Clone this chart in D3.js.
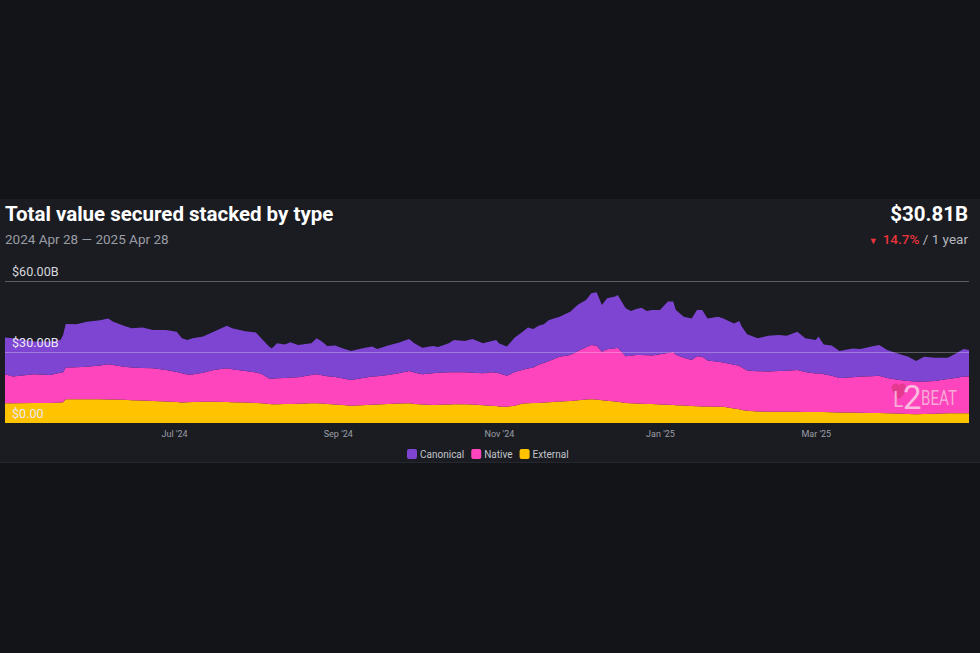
<!DOCTYPE html>
<html><head><meta charset="utf-8">
<script src="https://cdn.jsdelivr.net/npm/d3@7"></script>
<style>
html,body{margin:0;padding:0;background:#131418;}
svg{display:block;font-family:Roboto,"Noto Sans",sans-serif;}
</style></head><body>
<svg id="c" width="980" height="653"></svg>
<script>
const dates = ["2024-04-28","2024-05-01","2024-05-09","2024-05-15","2024-05-19","2024-05-20","2024-05-21","2024-05-25","2024-05-29","2024-06-03",
"2024-06-06","2024-06-08","2024-06-12","2024-06-15","2024-06-19","2024-06-23","2024-06-28","2024-07-02","2024-07-04","2024-07-06",
"2024-07-08","2024-07-12","2024-07-16","2024-07-21","2024-07-23","2024-07-28","2024-08-01","2024-08-03","2024-08-06","2024-08-07",
"2024-08-09","2024-08-12","2024-08-14","2024-08-17","2024-08-22","2024-08-24","2024-08-26","2024-08-28","2024-08-31","2024-09-03",
"2024-09-06","2024-09-10","2024-09-14","2024-09-16","2024-09-20","2024-09-24","2024-09-28","2024-09-30","2024-10-03","2024-10-07",
"2024-10-09","2024-10-13","2024-10-15","2024-10-19","2024-10-22","2024-10-26","2024-10-29","2024-10-31","2024-11-01","2024-11-04",
"2024-11-07","2024-11-10","2024-11-12","2024-11-14","2024-11-16","2024-11-18","2024-11-20","2024-11-24","2024-11-28","2024-12-01",
"2024-12-04","2024-12-06","2024-12-08","2024-12-10","2024-12-12","2024-12-15","2024-12-16","2024-12-19","2024-12-21","2024-12-23",
"2024-12-25","2024-12-27","2024-12-29","2025-01-01","2025-01-04","2025-01-06","2025-01-07","2025-01-10","2025-01-13","2025-01-15",
"2025-01-17","2025-01-19","2025-01-23","2025-01-25","2025-01-29","2025-01-31","2025-02-01","2025-02-03","2025-02-07","2025-02-11",
"2025-02-15","2025-02-18","2025-02-22","2025-02-25","2025-03-01","2025-03-02","2025-03-04","2025-03-07","2025-03-10","2025-03-15",
"2025-03-18","2025-03-22","2025-03-25","2025-03-28","2025-04-01","2025-04-05","2025-04-08","2025-04-11","2025-04-15","2025-04-20",
"2025-04-23","2025-04-26","2025-04-28"];

// values in billions USD
const canonical = [15.5,16.2,13.8,14.1,13.9,15.8,18.4,18.1,19.0,19.1,
19.4,18.3,17.3,16.6,17.1,16.2,16.9,17.0,14.8,14.6,
15.3,15.3,16.2,18.0,17.3,16.8,16.9,15.0,13.5,12.8,
14.8,14.2,14.9,13.7,13.4,15.2,14.2,12.7,13.3,12.7,
12.2,12.6,12.7,11.5,12.4,12.9,13.5,12.4,11.2,11.5,
10.9,12.3,13.7,13.2,14.3,12.7,13.1,13.9,12.7,12.3,
14.6,16.1,17.3,16.2,16.5,16.3,17.3,16.9,18.3,19.7,
20.0,21.8,22.6,19.8,21.5,21.8,22.3,20.3,18.9,19.5,
20.0,18.7,19.2,18.7,21.7,21.2,18.9,17.3,17.6,19.5,
19.7,17.8,19.0,18.6,17.4,18.9,17.2,15.3,13.9,15.1,
15.2,14.8,16.2,14.3,14.2,15.5,12.6,12.7,11.4,12.2,
11.7,12.5,13.0,11.8,11.1,10.3,8.7,10.5,9.9,9.0,
10.4,11.7,11.21];

const native = [12.3,11.3,12.2,11.8,12.5,12.6,13.4,13.6,13.8,14.3,
14.9,14.6,14.0,13.8,13.7,13.8,13.3,12.7,12.3,11.7,
11.6,12.2,13.4,14.2,13.9,13.3,12.8,12.5,10.8,10.8,
11.0,11.0,11.2,11.2,12.0,12.3,12.0,11.8,11.6,11.2,
10.9,11.4,11.9,12.0,12.3,12.8,13.7,13.3,12.8,13.4,
13.5,13.6,13.5,13.5,13.4,13.5,14.1,14.0,14.0,13.1,
14.2,14.3,14.7,15.1,16.1,16.7,17.4,18.9,19.4,20.8,
22.1,23.0,22.7,20.5,21.8,22.5,22.8,19.8,20.1,20.5,
20.6,20.6,20.5,21.2,21.9,22.5,21.3,20.2,19.4,21.1,
21.0,19.4,19.0,18.7,18.5,18.4,18.0,17.0,17.0,17.0,
17.2,17.3,17.6,16.8,16.2,16.3,16.0,15.5,14.6,14.9,
15.3,15.6,15.8,14.9,14.3,13.9,13.8,13.7,13.8,14.5,
14.9,15.5,15.5];

const external = [8.3,8.3,8.4,8.5,8.7,8.8,10.0,10.0,10.0,10.0,
9.9,9.9,9.8,9.6,9.5,9.3,9.1,8.9,8.7,8.8,
8.9,9.0,9.0,8.9,8.8,8.7,8.5,8.3,8.0,7.9,
7.9,8.0,8.0,8.1,8.3,8.3,8.2,8.0,7.8,7.6,
7.3,7.5,7.7,7.8,8.0,8.2,8.3,8.0,7.8,7.6,
7.7,7.8,7.9,7.9,7.8,7.5,7.3,7.2,7.0,6.9,
7.3,8.2,8.3,8.4,8.5,8.7,8.8,9.1,9.3,9.6,
9.9,10.0,9.9,9.6,9.4,9.1,9.0,8.4,8.3,8.2,
8.1,8.0,8.0,7.8,7.7,7.6,7.5,7.4,7.2,7.1,
7.0,7.0,6.9,6.9,6.1,5.8,5.5,5.2,4.9,4.8,
4.8,4.8,4.8,4.7,4.7,4.7,4.6,4.5,4.4,4.4,
4.3,4.2,4.2,4.1,4.0,3.8,3.7,3.8,3.9,4.1,
4.1,4.1,4.1];

const seriesKeys = ["external","native","canonical"];
const seriesLabels = {canonical:"Canonical", native:"Native", external:"External"};
const seriesColors = {canonical:"#7d45d2", native:"#ff45bd", external:"#ffc300"};
const legendOrder = ["canonical","native","external"];
const yTickValues = [0, 30, 60];
const xTickDates = ["2024-07-01","2024-09-01","2024-11-01","2025-01-01","2025-03-01"];
const titleText = "Total value secured stacked by type";
const rangeText = "2024 Apr 28 \u2014 2025 Apr 28";

const parse = d3.timeParse("%Y-%m-%d");
const rows = dates.map((d,i)=>({date:parse(d), canonical:canonical[i], native:native[i], external:external[i]}));

const svg = d3.select("#c");
const W = 980;

// card background
svg.append("rect").attr("x",0).attr("y",199).attr("width",W).attr("height",263).attr("fill","#1a1c22");
svg.append("line").attr("x1",0).attr("x2",W).attr("y1",462.5).attr("y2",462.5).attr("stroke","#262830");

const x = d3.scaleTime().domain([parse(dates[0]), parse(dates[dates.length-1])]).range([5, 969]);
const y = d3.scaleLinear().domain([0, 60]).range([423, 281]);

const stack = d3.stack().keys(seriesKeys);
const layers = stack(rows);
const area = d3.area().x(d=>x(d.data.date)).y0(d=>y(d[0])).y1(d=>y(d[1])).curve(d3.curveLinear);

// top grid line
svg.append("line").attr("x1",5).attr("x2",969).attr("y1",Math.round(y(60))+0.5).attr("y2",Math.round(y(60))+0.5)
  .attr("stroke","#5b5d64").attr("stroke-width",1);

svg.append("g").selectAll("path").data(layers).join("path")
  .attr("d",area).attr("fill",d=>seriesColors[d.key]);

// grid line drawn over areas
yTickValues.filter(v=>v>0 && v<60).forEach(v=>{
  svg.append("line").attr("x1",5).attr("x2",969).attr("y1",Math.round(y(v))+0.5).attr("y2",Math.round(y(v))+0.5)
    .attr("stroke","rgba(255,255,255,0.28)").attr("stroke-width",1);
});

// y labels
const fmtY = v => v===0 ? "$0.00" : "$" + v.toFixed(2) + "B";
svg.append("g").selectAll("text").data(yTickValues).join("text")
  .attr("x",12).attr("y",v=>y(v)-5).attr("fill",v=>v===60?"#d6d7da":"#ece7f4")
  .attr("font-size",12.6).text(fmtY);

// x axis
const xAxis = d3.axisBottom(x).tickValues(xTickDates.map(parse)).tickFormat(d3.timeFormat("%b '%y")).tickSize(0).tickPadding(8);
const gx = svg.append("g").attr("transform",`translate(0,${y(0)})`).call(xAxis);
gx.select(".domain").remove();
gx.selectAll("text").attr("fill","#9c9ea6").attr("font-size",9).attr("font-family","Roboto, sans-serif");

// title & subtitle
svg.append("text").attr("x",5).attr("y",221).attr("fill","#ffffff").attr("font-size",20.5).attr("font-weight",700).text(titleText);
svg.append("text").attr("x",5).attr("y",244).attr("fill","#9a9ca4").attr("font-size",13.5).text(rangeText);

// header value
const totals = rows.map(r=>r.canonical+r.native+r.external);
const last = totals[totals.length-1], first = totals[0];
const change = (last/first - 1)*100;
svg.append("text").attr("x",968).attr("y",221).attr("text-anchor","end").attr("fill","#ffffff")
  .attr("font-size",20.5).attr("font-weight",700).text("$" + last.toFixed(2) + "B");
const ch = svg.append("text").attr("x",968).attr("y",244).attr("text-anchor","end").attr("font-size",13.5);
ch.append("tspan").attr("fill","#e8343a").attr("font-size",9).text("\u25BC");
ch.append("tspan").attr("fill","#e8343a").attr("font-weight",500).attr("dx",5).text(Math.abs(change).toFixed(1)+"%");
ch.append("tspan").attr("fill","#b4b6bd").text(" / 1 year");

// legend
const legend = svg.append("g");
let lx = 407;
legendOrder.forEach(k=>{
  const g = legend.append("g").attr("transform",`translate(${lx},449)`);
  g.append("rect").attr("width",10).attr("height",10).attr("rx",2).attr("fill",seriesColors[k]);
  const t = g.append("text").attr("x",13).attr("y",8.7).attr("fill","#c2c4ca").attr("font-size",10).text(seriesLabels[k]);
  lx += 13 + t.node().getComputedTextLength() + 7;
});

// L2BEAT watermark
const wm = svg.append("g").attr("opacity",0.9);
wm.append("path").attr("transform","translate(899,391) scale(0.9)")
  .attr("d","M0,9 C-9,2 -10,-6 -5,-8 C-2,-9 0,-7 0,-5 C0,-7 2,-9 5,-8 C10,-6 9,2 0,9 Z")
  .attr("fill","#e23a8c");
wm.append("text").attr("x",893).attr("y",407).attr("fill","#f7b6da").attr("font-size",22).attr("font-family","Roboto Condensed, Roboto, sans-serif").text("L");
wm.append("text").attr("x",903).attr("y",409).attr("fill","#fbc8e6").attr("font-size",33).attr("font-family","Roboto, sans-serif").attr("textLength",17).text("2");
wm.append("text").attr("x",921).attr("y",405).attr("fill","#f7b6da").attr("font-size",21).attr("textLength",36).attr("lengthAdjust","spacingAndGlyphs").text("BEAT");
</script>
</body></html>
